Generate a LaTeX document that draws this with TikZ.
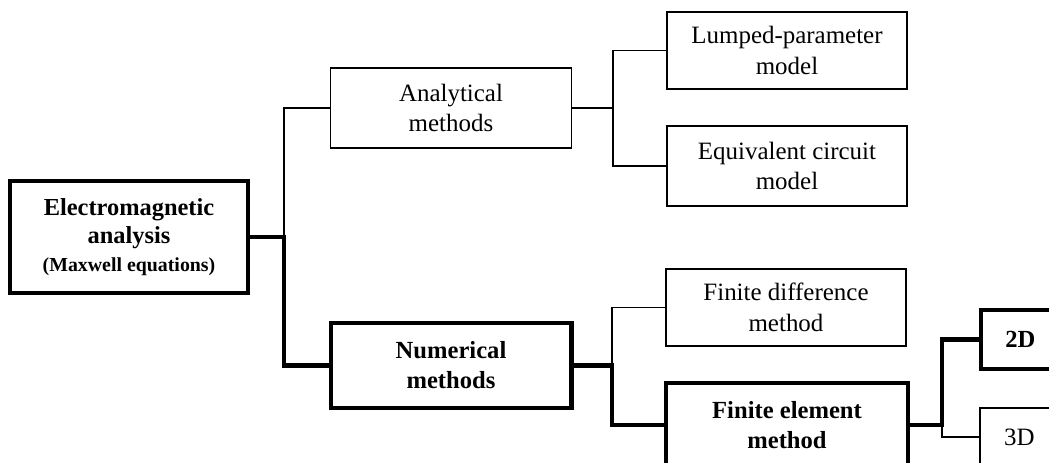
\documentclass[tikz,border=0pt]{standalone}
\usepackage{fontspec}
\setmainfont{Liberation Serif}
\begin{document}
\begin{tikzpicture}[x=0.02cm, y=-0.02cm,
  box/.style={draw, line width=0.9pt, align=center, inner sep=2pt,
    font=\fontsize{14.2}{17.6}\selectfont},
  bigbox/.style={box, line width=2.3pt, font=\fontsize{14}{17}\selectfont\bfseries},
  thinline/.style={line width=0.9pt},
  thickline/.style={line width=2.3pt}]
\useasboundingbox (0,0) rectangle (1049,463);
\clip (0,0) rectangle (1049,463);
% boxes
\node[bigbox, minimum width=4.76cm, minimum height=2.24cm, font=\fontsize{13.9}{16}\selectfont\bfseries] (em) at (129,237)
  {Electromagnetic\\analysis\\[-0.5pt]{\fontsize{11.3}{13}\selectfont (Maxwell equations)}};
\node[box, minimum width=4.82cm, minimum height=1.6cm] (ana) at (451,108) {Analytical\\methods};
\node[bigbox, minimum width=4.82cm, minimum height=1.7cm] (num) at (451,365.5) {Numerical\\methods};
\node[box, minimum width=4.8cm, minimum height=1.54cm] (lump) at (787,50.5) {Lumped-parameter\\model};
\node[box, minimum width=4.8cm, minimum height=1.6cm] (equ) at (787,166) {Equivalent circuit\\model};
\node[box, minimum width=4.8cm, minimum height=1.54cm] (fd) at (786,307.5) {Finite difference\\method};
\node[bigbox, minimum width=4.84cm, minimum height=1.68cm] (fe) at (787,425) {Finite element\\method};
\node[bigbox, anchor=west, minimum width=2.2cm, minimum height=1.18cm, text width=1.3cm, align=left] (d2) at (979,339.5) {\hspace*{1pt}2D};
\node[box, anchor=west, minimum width=2.2cm, minimum height=1.16cm, text width=1.3cm, align=left] (d3) at (979,437) {\hspace*{1pt}3D};
% junctions
\coordinate (j1) at (284,237);
\coordinate (j2) at (613,108);
\coordinate (j3) at (612,365.5);
\coordinate (j4) at (942,425);
% connectors
\draw[thinline] (j1) |- (ana.west);
\draw[thickline] (em.east) -- (j1) |- (num.west);
\draw[thinline] (ana.east) -- (j2) |- (lump.west);
\draw[thinline] (j2) |- (equ.west);
\draw[thinline] (j3) |- (fd.west);
\draw[thickline] (num.east) -- (j3) |- (fe.west);
\draw[thickline] (fe.east) -- (j4) |- (d2.west);
\draw[thinline] (j4) |- (d3.west);
\end{tikzpicture}
\end{document}
